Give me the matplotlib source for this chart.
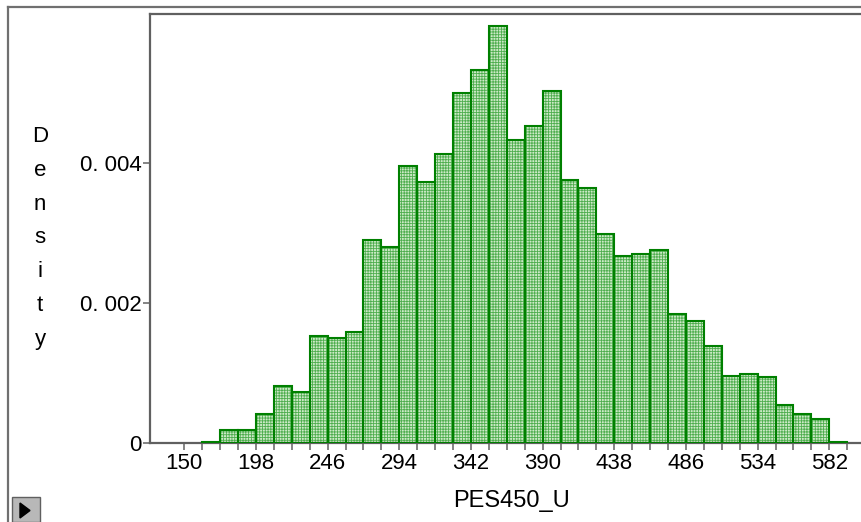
import numpy as np
import matplotlib
matplotlib.use("Agg")
import matplotlib.pyplot as plt
from matplotlib.patches import Rectangle, Polygon
from matplotlib.lines import Line2D

# 直方图数据：区间左端点（宽度 12）和对应密度
bin_left = list(range(162, 594, 12))
density = [0.00002, 0.000186, 0.000186, 0.00042, 0.00082, 0.00073,
           0.00153, 0.00150, 0.00159, 0.00290, 0.00281, 0.00396,
           0.00373, 0.00413, 0.00501, 0.00533, 0.00596, 0.00433,
           0.00453, 0.00504, 0.00376, 0.00365, 0.00299, 0.00267,
           0.00270, 0.00276, 0.00184, 0.00175, 0.00139, 0.00096,
           0.00099, 0.00095, 0.00055, 0.00041, 0.00035, 0.00002]
bin_width = 12
x_major = list(range(150, 583, 48))
x_minor = list(range(150, 595, 12))
y_ticks = [0, 0.002, 0.004]
y_labels = ["0", "0. 002", "0. 004"]

plt.rcParams['font.family'] = ['Liberation Sans', 'DejaVu Sans']
plt.rcParams['hatch.linewidth'] = 0.6

W, H = 862, 522
fig = plt.figure(figsize=(W / 100, H / 100), dpi=100)

def fx(px):
    return px / W

def fy(py):
    return 1 - py / H

ax = fig.add_axes([fx(150), fy(443), fx(862 - 150), fy(14) - fy(443)])

# 填充（细网格）和边框分两层画
ax.bar(bin_left, density, width=bin_width, align='edge',
       facecolor='#cdeac7', edgecolor='#4fae4f', linewidth=0,
       hatch='++++++', zorder=2)
ax.bar(bin_left, density, width=bin_width, align='edge',
       fill=False, edgecolor='#008000', linewidth=1.5, zorder=3)

ax.set_xlim(127.0, 603.9)
ax.set_ylim(0, 429 / 69900)

ax.set_xticks(x_major)
ax.set_xticklabels([str(v) for v in x_major], fontsize=16)
ax.set_xticks(x_minor, minor=True)
ax.set_yticks(y_ticks)
ax.set_yticklabels(y_labels, fontsize=16)
ax.tick_params(axis='x', which='both', direction='out', length=5,
               width=1.2, color='#707070', pad=2)
ax.tick_params(axis='y', direction='out', length=5, width=1.2,
               color='#707070', pad=1)

ax.spines['right'].set_visible(False)
for side in ['left', 'top', 'bottom']:
    ax.spines[side].set_color('#606060')
    ax.spines[side].set_linewidth(1.6)

# x 轴标题
fig.text(fx(512), fy(507), "PES450_U", ha='center', va='baseline',
         fontsize=17)

# y 轴标题：竖排字母
for i, ch in enumerate("Density"):
    fig.text(fx(40), fy(142 + 33.8 * i), ch, ha='center', va='baseline',
             fontsize=16)

# 外框
fig.add_artist(Line2D([fx(8), fx(8)], [fy(7), 0], color='#707070',
                      linewidth=1.6, transform=fig.transFigure))
fig.add_artist(Line2D([fx(8), 1], [fy(7), fy(7)], color='#707070',
                      linewidth=1.6, transform=fig.transFigure))

# 左下角的小按钮
fig.add_artist(Rectangle((fx(12), 0), fx(28), fy(497), facecolor='#b8b8b8',
                         edgecolor='#606060', linewidth=1,
                         transform=fig.transFigure))
fig.add_artist(Polygon([[fx(20), fy(503)], [fx(20), fy(518)],
                        [fx(30), fy(510.5)]], closed=True,
                       facecolor='black', edgecolor='black',
                       transform=fig.transFigure))

fig.savefig("out.png", dpi=100)
